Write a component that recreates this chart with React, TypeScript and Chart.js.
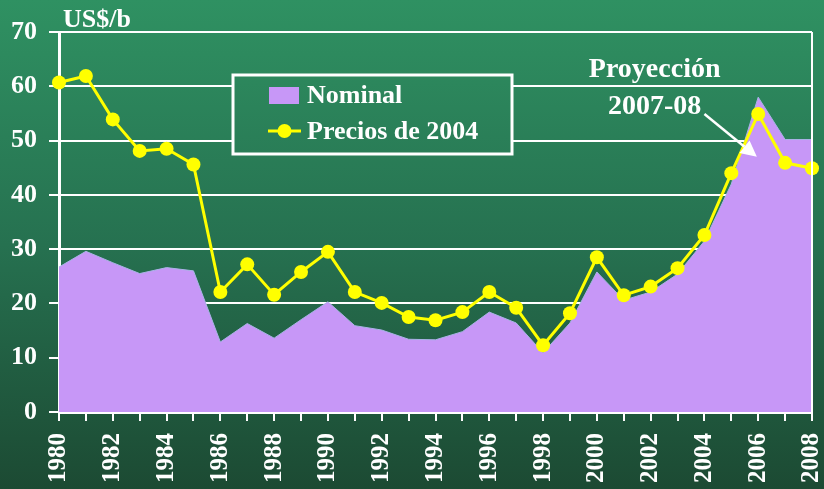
import React, { useEffect, useRef } from "react";
import { Chart, registerables } from "chart.js";

Chart.register(...registerables);

const years: string[] = [
  "1980", "1981", "1982", "1983", "1984", "1985", "1986", "1987", "1988", "1989",
  "1990", "1991", "1992", "1993", "1994", "1995", "1996", "1997", "1998", "1999",
  "2000", "2001", "2002", "2003", "2004", "2005", "2006", "2007", "2008",
];

const nominal: number[] = [
  26.7, 29.6, 27.5, 25.5, 26.6, 26.0, 12.9, 16.3, 13.6, 17.0,
  20.3, 15.9, 15.1, 13.4, 13.3, 14.8, 18.4, 16.4, 10.9, 16.4,
  25.8, 20.6, 22.1, 25.4, 31.5, 42.0, 58.0, 50.2, 50.2,
];

const precios2004: number[] = [
  60.7, 61.9, 53.9, 48.1, 48.5, 45.6, 22.1, 27.2, 21.6, 25.8,
  29.5, 22.1, 20.1, 17.5, 16.9, 18.4, 22.1, 19.2, 12.3, 18.2,
  28.5, 21.5, 23.1, 26.5, 32.6, 44.0, 54.9, 45.9, 44.9,
];

const yTicks: number[] = [0, 10, 20, 30, 40, 50, 60, 70];

const seriesNames: string[] = ["Nominal", "Precios de 2004"];
const unitLabel = "US$/b";
const noteLines: string[] = ["Proyección", "2007-08"];

const FONT = "'Liberation Serif', 'Times New Roman', serif";
const W = 824;
const H = 489;

function makeBg(ctx: CanvasRenderingContext2D) {
  const g = ctx.createLinearGradient(0, 0, 0, H);
  g.addColorStop(0, "#2f9162");
  g.addColorStop(0.5, "#267150");
  g.addColorStop(1, "#1c4a33");
  return g;
}

const decorPlugin = {
  id: "decor",
  beforeDraw(chart: any) {
    const ctx = chart.ctx as CanvasRenderingContext2D;
    ctx.save();
    ctx.fillStyle = makeBg(ctx);
    ctx.fillRect(0, 0, chart.width, chart.height);
    ctx.restore();
  },
  afterDraw(chart: any) {
    const ctx = chart.ctx as CanvasRenderingContext2D;
    const ca = chart.chartArea;
    const ys = chart.scales.y;
    const xs = chart.scales.x;
    ctx.save();

    // right frame line
    ctx.strokeStyle = "#ffffff";
    ctx.lineWidth = 2;
    ctx.beginPath();
    ctx.moveTo(ca.right, ca.top);
    ctx.lineTo(ca.right, ca.bottom);
    ctx.stroke();

    // unit label
    ctx.fillStyle = "#ffffff";
    ctx.font = `bold 26px ${FONT}`;
    ctx.textAlign = "left";
    ctx.textBaseline = "alphabetic";
    ctx.fillText(unitLabel, ca.left + 4, 27);

    // legend box
    const bx = 233, by = 75, bw = 279, bh = 79;
    ctx.fillStyle = makeBg(ctx);
    ctx.fillRect(bx, by, bw, bh);
    ctx.strokeStyle = "#ffffff";
    ctx.lineWidth = 3;
    ctx.strokeRect(bx, by, bw, bh);

    const ds = chart.data.datasets;
    // Nominal swatch
    ctx.fillStyle = ds[1].backgroundColor;
    ctx.fillRect(269, 87, 30, 17);
    ctx.fillStyle = "#ffffff";
    ctx.font = `bold 26px ${FONT}`;
    ctx.textBaseline = "middle";
    ctx.fillText(ds[1].label, 307, 96);
    // line swatch
    ctx.strokeStyle = ds[0].borderColor;
    ctx.lineWidth = 3;
    ctx.beginPath();
    ctx.moveTo(268, 131);
    ctx.lineTo(301, 131);
    ctx.stroke();
    ctx.fillStyle = ds[0].pointBackgroundColor;
    ctx.beginPath();
    ctx.arc(284.5, 131, 7, 0, Math.PI * 2);
    ctx.fill();
    ctx.fillStyle = "#ffffff";
    ctx.fillText(ds[0].label, 307, 132);

    // annotation
    ctx.textAlign = "center";
    ctx.textBaseline = "alphabetic";
    ctx.font = `bold 28px ${FONT}`;
    const cx = xs.getPixelForValue(22.15);
    ctx.fillText(noteLines[0], cx, 77);
    ctx.fillText(noteLines[1], cx, 114);

    // arrow
    const x1 = xs.getPixelForValue(24.0), y1 = 114;
    const tx = xs.getPixelForValue(25.95);
    const ty = ys.getPixelForValue(47);
    ctx.strokeStyle = "#ffffff";
    ctx.fillStyle = "#ffffff";
    ctx.lineWidth = 2.5;
    const ang = Math.atan2(ty - y1, tx - x1);
    const hl = 16, hw = 8;
    const bxp = tx - hl * Math.cos(ang);
    const byp = ty - hl * Math.sin(ang);
    ctx.beginPath();
    ctx.moveTo(x1, y1);
    ctx.lineTo(bxp, byp);
    ctx.stroke();
    ctx.beginPath();
    ctx.moveTo(tx, ty);
    ctx.lineTo(bxp + hw * Math.sin(ang), byp - hw * Math.cos(ang));
    ctx.lineTo(bxp - hw * Math.sin(ang), byp + hw * Math.cos(ang));
    ctx.closePath();
    ctx.fill();

    ctx.restore();
  },
};

export default function App() {
  const ref = useRef<HTMLCanvasElement | null>(null);

  useEffect(() => {
    if (!ref.current) return;
    const chart = new Chart(ref.current, {
      type: "line",
      data: {
        labels: years,
        datasets: [
          {
            label: seriesNames[1],
            data: precios2004,
            borderColor: "#ffff00",
            backgroundColor: "#ffff00",
            borderWidth: 3,
            pointRadius: 7,
            pointBackgroundColor: "#ffff00",
            pointBorderWidth: 0,
            tension: 0,
            fill: false,
            clip: false as any,
            order: 0,
          },
          {
            label: seriesNames[0],
            data: nominal,
            borderColor: "#a9b3e6",
            backgroundColor: "#c797f7",
            borderWidth: 1,
            pointRadius: 0,
            tension: 0,
            fill: "origin",
            order: 1,
          },
        ],
      },
      options: {
        responsive: false,
        animation: false,
        layout: { padding: { left: 0, right: 12, top: 32, bottom: 0 } },
        plugins: {
          legend: { display: false },
          tooltip: { enabled: false },
          title: { display: false },
        },
        scales: {
          x: {
            type: "category",
            offset: false,
            afterFit: (s: any) => {
              s.height = 77;
              s.paddingLeft = 0;
              s.paddingRight = 0;
            },
            grid: {
              drawOnChartArea: false,
              drawTicks: true,
              tickLength: 9,
              color: "#ffffff",
              lineWidth: 2,
            },
            border: { color: "#ffffff", width: 3 },
            ticks: {
              autoSkip: false,
              maxRotation: 90,
              minRotation: 90,
              padding: 12,
              color: "#ffffff",
              font: { family: FONT, size: 25, weight: "bold" },
              callback: (_v: any, i: number) => (i % 2 === 0 ? years[i] : ""),
            },
          },
          y: {
            min: yTicks[0],
            max: yTicks[yTicks.length - 1],
            afterFit: (s: any) => {
              s.width = 59;
              s.paddingTop = 0;
              s.paddingBottom = 0;
            },
            afterBuildTicks: (s: any) => { s.ticks = yTicks.map((v) => ({ value: v })); },
            grid: {
              color: "#ffffff",
              lineWidth: 2,
              tickLength: 10,
              drawTicks: true,
            },
            border: { color: "#ffffff", width: 3 },
            ticks: {
              padding: 12,
              color: "#ffffff",
              font: { family: FONT, size: 26, weight: "bold" },
            },
          },
        },
      },
      plugins: [decorPlugin],
    });
    return () => chart.destroy();
  }, []);

  return (
    <div style={{ position: "fixed", left: 0, top: 0, width: W, height: H }}>
      <canvas ref={ref} width={W} height={H} style={{ display: "block" }} />
    </div>
  );
}
